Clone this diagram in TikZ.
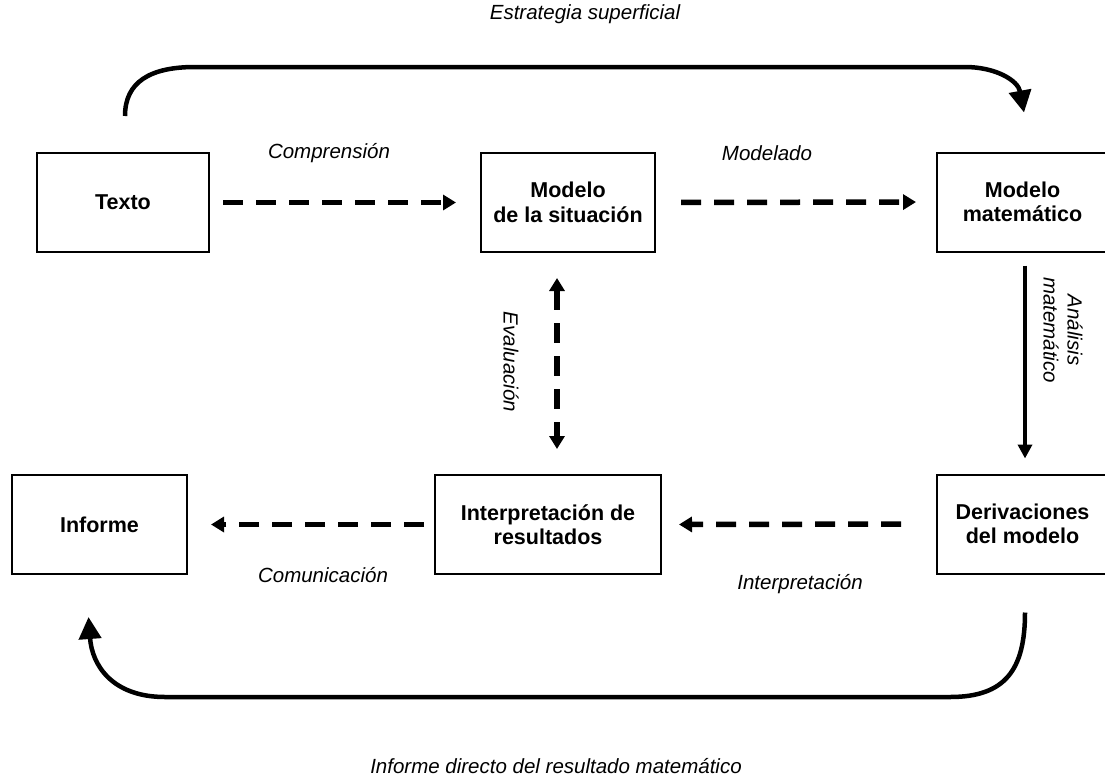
\documentclass[tikz,border=0pt]{standalone}
\usepackage{fontspec}
\setmainfont{Liberation Sans}
\usetikzlibrary{arrows.meta,calc}
\begin{document}
\begin{tikzpicture}[x=1pt,y=-1pt,
  box/.style={draw=black,line width=2pt,fill=white,align=center,inner sep=0pt,
    font=\fontsize{21.5}{24.5}\selectfont\bfseries,minimum height=99pt},
  lbl/.style={font=\fontsize{20.5}{24}\selectfont\itshape,inner sep=0pt,align=center},
  dasharrow/.style={line width=5.5pt,dash pattern=on 20pt off 13pt,
    -{Triangle[length=13pt,width=15pt]}},
  dasharrowboth/.style={line width=5.5pt,dash pattern=on 20pt off 13pt,
    {Triangle[length=13pt,width=15pt]}-{Triangle[length=13pt,width=15pt]}},
  solidarrow/.style={line width=4pt,-{Triangle[length=14pt,width=14pt]}},
  bigcurve/.style={line width=4.5pt,-{Triangle[length=22pt,width=22pt]}}
]
\useasboundingbox (0,0) rectangle (1105,782);
\clip (0,0) rectangle (1105,782);
\fill[white] (0,0) rectangle (1105,782);

% boxes
\node[box,minimum width=172pt] (texto) at (123,202.5) {Texto};
\node[box,minimum width=174pt] (ms) at (568,202.5) {Modelo\\de la situación};
\node[box,minimum width=171pt] (mm) at (1022.5,202) {Modelo\\matemático};
\node[box,minimum width=175pt] (inf) at (99.5,524.5) {Informe};
\node[box,minimum width=226pt] (ir) at (548,524.5) {Interpretación de\\resultados};
\node[box,minimum width=171pt] (dm) at (1022.5,524) {Derivaciones\\del modelo};

% dashed arrows
\draw[dasharrow,shorten <=13pt,shorten >=24pt] (texto.east) -- (ms.west);
\draw[dasharrow,shorten <=25pt,shorten >=20pt] (ms.east) -- (mm.west);
\draw[dasharrow,shorten <=35pt,shorten >=17pt] (dm.west) -- (ir.east);
\draw[dasharrow,shorten <=10pt,shorten >=23pt] (ir.west) -- (inf.east);
\draw[dasharrowboth,shorten <=25pt,shorten >=25pt] (ms.south -| 557,0) -- (ir.north -| 557,0);

% solid vertical arrow
\draw[solidarrow,shorten <=13pt,shorten >=15pt] (mm.south -| 1025,0) -- (dm.north -| 1025,0);

% curved arrows
\coordinate (tstart) at ($(texto.north)+(2,-36)$);
\coordinate (tend) at ($(mm.north)+(1.5,-39)$);
\draw[bigcurve] (tstart) .. controls (125,82) and (150,67) .. (195,67)
  -- (965,67) .. controls (995,67) and (1018,80) .. (tend);

\coordinate (bstart) at ($(dm.south)+(2.5,38)$);
\coordinate (bend) at ($(inf.south)+(-11,42)$);
\draw[bigcurve] (bstart) .. controls (1025,670) and (1005,697) .. (950,697)
  -- (165,697) .. controls (112,697) and (92,665) .. (bend);

% labels
\node[lbl] (l1) at (585,14) {Estrategia superficial};
\node[lbl] (l2) at (329,153) {Comprensión};
\node[lbl] (l3) at (767,153) {Modelado};
\node[lbl,rotate=-90] (l4) at (511,362) {Evaluación};
\node[lbl,rotate=-90] (l5) at (1063,330) {Análisis\\matemático};
\node[lbl] (l6) at (323,575) {Comunicación};
\node[lbl] (l7) at (800,584) {Interpretación};
\node[lbl] (l8) at (556,766) {Informe directo del resultado matemático};
\end{tikzpicture}
\end{document}
